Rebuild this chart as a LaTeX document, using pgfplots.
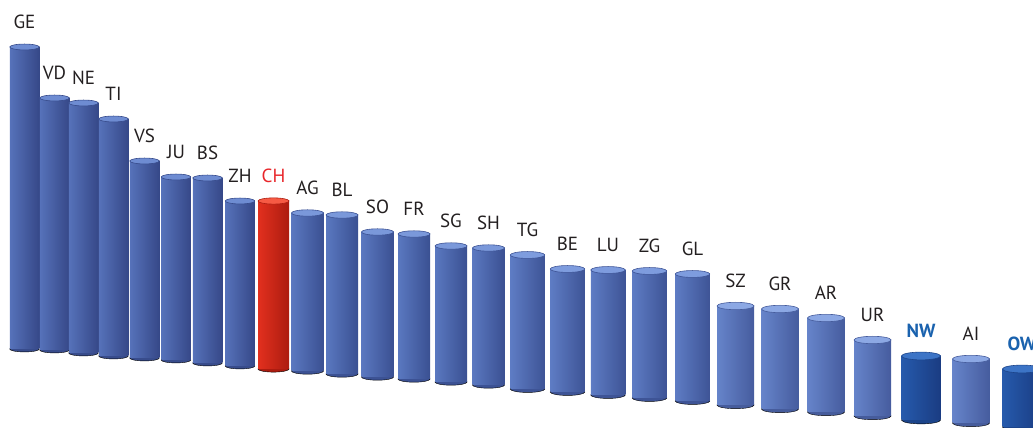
\documentclass[border=0pt]{standalone}
\usepackage{pgfplots}
\pgfplotsset{compat=1.18}
\usepackage{pgfplotstable}
\usepackage{fontspec}
\setmainfont{PT Sans}

\definecolor{txt}{HTML}{231F20}
\definecolor{chred}{HTML}{E8262A}
\definecolor{nwblue}{HTML}{1A62AE}
% group A
\definecolor{aL}{RGB}{86,114,186}\definecolor{aM}{RGB}{112,142,212}\definecolor{aR}{RGB}{54,72,136}\definecolor{aT}{RGB}{110,140,210}\definecolor{aE}{RGB}{56,76,140}
% group B (CH)
\definecolor{bL}{RGB}{226,48,30}\definecolor{bM}{RGB}{246,74,52}\definecolor{bR}{RGB}{172,28,16}\definecolor{bT}{RGB}{246,90,68}\definecolor{bE}{RGB}{172,28,16}
% group C
\definecolor{cL}{RGB}{90,120,192}\definecolor{cM}{RGB}{116,148,218}\definecolor{cR}{RGB}{58,80,146}\definecolor{cT}{RGB}{122,152,218}\definecolor{cE}{RGB}{60,82,148}
% group D
\definecolor{dL}{RGB}{94,124,196}\definecolor{dM}{RGB}{120,152,222}\definecolor{dR}{RGB}{62,84,150}\definecolor{dT}{RGB}{126,156,222}\definecolor{dE}{RGB}{62,84,150}
% group E
\definecolor{eL}{RGB}{102,132,202}\definecolor{eM}{RGB}{132,160,226}\definecolor{eR}{RGB}{70,92,158}\definecolor{eT}{RGB}{140,168,228}\definecolor{eE}{RGB}{70,92,156}
% group F (NW, OW)
\definecolor{fL}{RGB}{38,90,172}\definecolor{fM}{RGB}{52,108,194}\definecolor{fR}{RGB}{26,60,130}\definecolor{fT}{RGB}{60,116,198}\definecolor{fE}{RGB}{28,68,138}

% x = bar centre, base = foot of bar, h = bar height (picture units)
\pgfplotstableread{
x     base h   lab
24.5  79  302  GE
54.5  78  252  VD
83.5  75  250  NE
113.5 72  237  TI
144.5 70  197  VS
176   68  183  JU
207.5 65  185  BS
240   62  165  ZH
}\gA
\pgfplotstableread{
x     base h   lab
273.5 59  168  CH
}\gB
\pgfplotstableread{
x     base h   lab
307.5 57  158  AG
342   54  159  BL
377.5 51  145  SO
414   49  145  FR
451   46  136  SG
488.5 43  137  SH
}\gC
\pgfplotstableread{
x     base h   lab
527.5 39  134  TG
567.5 36  123  BE
608   33  125  LU
649.5 30  127  ZG
692.5 27  127  GL
}\gD
\pgfplotstableread{
x     base h   lab
735.5 23  99   SZ
780   19  100  GR
826   16  94   AR
872.5 12  76   UR
971   5   64   AI
}\gE
\pgfplotstableread{
x     base h   lab
921   8   64   NW
1022  1   58   OW
}\gF

\pgfplotsset{cylaxis/.style={x=1pt,y=1pt,xmin=0,xmax=1033,ymin=0,ymax=428,
  hide axis,clip=true,anchor=south west,at={(0,0)}}}

% one shaded cylinder body: #1 table #2 row index #3 next index #4 width #5 colour prefix
\newcommand\cylbody[5]{%
\begin{axis}[cylaxis,ybar stacked,bar width=#4]
\addplot[draw=none,fill=none,skip coords between index={0}{#2},
  skip coords between index={#3}{999}] table[x=x,y=base]{#1};
\addplot[draw=none,left color=#5L,middle color=#5M,right color=#5R,
  skip coords between index={0}{#2},skip coords between index={#3}{999}] table[x=x,y=h]{#1};
\end{axis}}

% #1 table #2 width #3 colour prefix #4 label style #5 last row index
\newcommand\cyl[5]{%
\begin{axis}[cylaxis]
\addplot[only marks,mark=*,mark size={#2/2},mark options={yscale=0.2,fill=#3E,draw=none}]
  table[x=x,y=base]{#1};
\end{axis}
\foreach \i [evaluate=\i as \j using int(\i+1)] in {0,...,#5}{\cylbody{#1}{\i}{\j}{#2}{#3}}
\begin{axis}[cylaxis]
\addplot[only marks,mark=*,mark size={#2/2},mark options={yscale=0.2,fill=#3T,draw=#3E,line width=0.6pt}]
  table[x=x,y expr=\thisrow{base}+\thisrow{h}]{#1};
\addplot[draw=none,mark=none,nodes near coords,point meta=explicit symbolic,
  nodes near coords align={anchor=base},
  every node near coord/.append style={inner sep=0pt,#4}]
  table[x=x,y expr=\thisrow{base}+\thisrow{h}+18.3,meta=lab]{#1};
\end{axis}}

\begin{document}
\begin{tikzpicture}
\useasboundingbox (0,0) rectangle (1033pt,428pt);
\cyl{\gA}{29.5}{a}{font=\fontsize{19}{22}\selectfont,text=txt}{7}
\cyl{\gB}{31}{b}{font=\fontsize{19}{22}\selectfont,text=chred}{0}
\cyl{\gC}{32}{c}{font=\fontsize{19}{22}\selectfont,text=txt}{5}
\cyl{\gD}{34.5}{d}{font=\fontsize{19}{22}\selectfont,text=txt}{4}
\cyl{\gE}{37}{e}{font=\fontsize{19}{22}\selectfont,text=txt}{4}
\cyl{\gF}{39}{f}{font=\fontsize{19}{22}\selectfont\bfseries,text=nwblue}{1}
\end{tikzpicture}
\end{document}
